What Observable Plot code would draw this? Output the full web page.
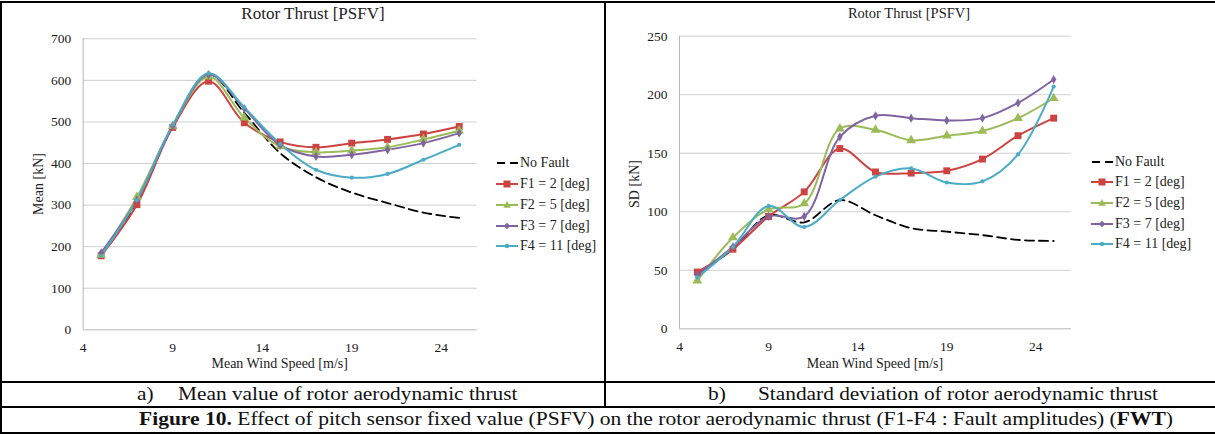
<!DOCTYPE html>
<html>
<head>
<meta charset="utf-8">
<script src="https://cdn.jsdelivr.net/npm/d3@7"></script>
<script src="https://cdn.jsdelivr.net/npm/@observablehq/plot@0.6"></script>
<style>
  html, body { margin: 0; padding: 0; background: #fff; }
  #page { position: relative; width: 1215px; height: 434px; background: #fff; overflow: hidden;
          font-family: "Liberation Serif", "Times New Roman", serif; color: #111; }
  .hline { position: absolute; left: 0; width: 1215px; height: 2px; background: #000; }
  .vline { position: absolute; width: 2px; background: #000; }
  .title { position: absolute; white-space: nowrap; transform: translateX(-50%); color: #222; }
  .lab { position: absolute; white-space: nowrap; font-size: 14px; color: #222; }
  .legend { position: absolute; font-size: 14px; color: #222; }
  .legend .item { position: absolute; left: 0; white-space: nowrap; height: 16px; line-height: 16px; }
  .legend svg { position: absolute; left: 0; top: 0; }
  .legend span { position: absolute; top: 0; }
  .cap { position: absolute; white-space: nowrap; font-size: 19px; color: #111; transform-origin: 0 50%; }
</style>
</head>
<body>
<div id="page"></div>
<script>
// ---------------- data ----------------
const windSpeed = [5, 7, 9, 11, 13, 15, 17, 19, 21, 23, 25];
const xTicks = [4, 9, 14, 19, 24];

const seriesNames = ["No Fault", "F1 = 2 [deg]", "F2 = 5 [deg]", "F3 = 7 [deg]", "F4 = 11 [deg]"];
const seriesColors = ["#000000", "#CC4340", "#9BBB59", "#8064A2", "#4BACC6"];
const seriesSymbols = [null, "square", "triangle", "diamond", "circle"];

// a) Mean [kN]
const meanNoFault = [180, 305, 490, 615, 522, 425, 367, 330, 305, 282, 269];
const meanF1 = [178, 301, 487, 598, 498, 452, 439, 449, 458, 471, 489];
const meanF2 = [180, 319, 490, 609, 510, 441, 427, 431, 439, 458, 479];
const meanF3 = [185, 312, 490, 614, 532, 444, 417, 421, 433, 449, 473];
const meanF4 = [178, 312, 493, 617, 535, 447, 385, 366, 375, 409, 445];
const meanTicks = [0, 100, 200, 300, 400, 500, 600, 700];

// b) SD [kN]
const sdNoFault = [47, 68, 97, 91, 110, 97, 86, 83, 80, 76, 75];
const sdF1 = [48.5, 68, 96, 117, 154, 134, 133, 135, 145, 165, 180];
const sdF2 = [41, 78, 102, 107, 171, 170, 161, 165, 169, 180, 197];
const sdF3 = [46, 70, 96, 96, 164, 182, 180, 178, 180, 193, 213];
const sdF4 = [44, 70, 105, 87, 110, 130, 137, 125, 126, 149, 207];
const sdTicks = [0, 50, 100, 150, 200, 250];

const meanSeries = [meanNoFault, meanF1, meanF2, meanF3, meanF4];
const sdSeries = [sdNoFault, sdF1, sdF2, sdF3, sdF4];

const symbolR = {square: 3.9, triangle: 3.6, diamond: 2.8, circle: 2.1};

// ---------------- helpers ----------------
const page = document.getElementById("page");
function add(html) { page.insertAdjacentHTML("beforeend", html); return page.lastElementChild; }

function panel(seriesValues, yDomain, yTicks, m) {
  const marks = [
    Plot.gridY(yTicks.filter(t => t > 0), {stroke: "#cfcfcf", strokeOpacity: 1, strokeWidth: 1}),
    Plot.ruleX([4], {stroke: "#b8b8b8", strokeWidth: 1}),
    Plot.ruleY([0], {stroke: "#b8b8b8", strokeWidth: 1})
  ];
  seriesValues.forEach((vals, k) => {
    const data = vals.map((v, i) => ({x: windSpeed[i], y: v}));
    marks.push(Plot.line(data, {
      x: "x", y: "y", stroke: seriesColors[k], strokeWidth: k === 0 ? 1.8 : 2,
      strokeDasharray: k === 0 ? "9,5" : null, curve: "catmull-rom"
    }));
  });
  seriesValues.forEach((vals, k) => {
    if (!seriesSymbols[k]) return;
    const data = vals.map((v, i) => ({x: windSpeed[i], y: v}));
    marks.push(Plot.dot(data, {
      x: "x", y: "y", symbol: seriesSymbols[k], r: symbolR[seriesSymbols[k]],
      fill: seriesColors[k], stroke: "none"
    }));
  });
  return Plot.plot({
    width: m.width, height: m.height,
    marginLeft: m.left, marginRight: m.right, marginTop: m.top, marginBottom: m.bottom,
    x: {domain: [4, 26], ticks: xTicks, tickSize: 0, tickPadding: 13, label: null},
    y: {domain: yDomain, ticks: yTicks, tickSize: 0, tickPadding: 12, label: null},
    style: {fontFamily: "'Liberation Serif', 'Times New Roman', serif", fontSize: "13.5px", color: "#1a1a1a", background: "transparent", overflow: "visible"},
    marks
  });
}

function legend(left, tops) {
  let html = `<div class="legend" style="left:${left}px;top:0px;">`;
  seriesNames.forEach((name, k) => {
    const c = seriesColors[k];
    let glyph;
    if (k === 0) {
      glyph = `<line x1="1" y1="8" x2="22" y2="8" stroke="#000" stroke-width="2" stroke-dasharray="8,5"/>`;
    } else {
      let mk = "";
      const cx = 11, cy = 8;
      if (seriesSymbols[k] === "square") mk = `<rect x="${cx-3.5}" y="${cy-3.5}" width="7" height="7" fill="${c}"/>`;
      else if (seriesSymbols[k] === "triangle") mk = `<path d="M${cx},${cy-4} L${cx+3.8},${cy+2.8} L${cx-3.8},${cy+2.8} Z" fill="${c}"/>`;
      else if (seriesSymbols[k] === "diamond") mk = `<path d="M${cx},${cy-3.2} L${cx+3.2},${cy} L${cx},${cy+3.2} L${cx-3.2},${cy} Z" fill="${c}"/>`;
      else mk = `<circle cx="${cx}" cy="${cy}" r="2.2" fill="${c}"/>`;
      glyph = `<line x1="0" y1="8" x2="22" y2="8" stroke="${c}" stroke-width="2"/>${mk}`;
    }
    html += `<div class="item" style="top:${tops[k] - 8}px;"><svg width="23" height="16">${glyph}</svg><span style="left:24px;">${name}</span></div>`;
  });
  html += `</div>`;
  add(html);
}

// ---------------- panel a ----------------
const svgA = panel(meanSeries, [0, 700], meanTicks, {width: 606, height: 383, left: 82.7, right: 129.4, top: 38.3, bottom: 53.7});
svgA.style.position = "absolute"; svgA.style.left = "0px"; svgA.style.top = "0px";
page.appendChild(svgA);

// ---------------- panel b ----------------
const svgB = panel(sdSeries, [0, 250], sdTicks, {width: 609, height: 383, left: 73, right: 144, top: 35.7, bottom: 54.7});
svgB.style.position = "absolute"; svgB.style.left = "606px"; svgB.style.top = "0px";
page.appendChild(svgB);

// titles
add(`<div class="title" style="left:313px;top:4px;font-size:17px;">Rotor Thrust [PSFV]</div>`);
add(`<div class="title" style="left:909px;top:5px;font-size:14.5px;">Rotor Thrust [PSFV]</div>`);
// axis labels
add(`<div class="lab" style="left:279.7px;top:356px;transform:translateX(-50%);">Mean Wind Speed [m/s]</div>`);
add(`<div class="lab" style="left:875px;top:356px;transform:translateX(-50%);">Mean Wind Speed [m/s]</div>`);
add(`<div class="lab" style="left:39px;top:184px;transform:translate(-50%,-50%) rotate(-90deg);">Mean [kN]</div>`);
add(`<div class="lab" style="left:635px;top:183.5px;transform:translate(-50%,-50%) rotate(-90deg);">SD [kN]</div>`);
// legends
legend(496, [163.3, 184, 204.5, 225.5, 246]);
legend(1091, [161.7, 182.3, 203.3, 224, 244.3]);

// borders
add(`<div class="hline" style="top:1px;"></div>`);
add(`<div class="hline" style="top:381px;"></div>`);
add(`<div class="hline" style="top:406px;"></div>`);
add(`<div class="hline" style="top:432px;"></div>`);
add(`<div class="vline" style="left:0px;top:1px;height:433px;"></div>`);
add(`<div class="vline" style="left:604px;top:1px;height:407px;"></div>`);

// captions (stretched horizontally to the widths seen in the reference)
function fit(el, target) {
  const w = el.getBoundingClientRect().width;
  el.style.transform = `scaleX(${target / w})`;
  return target / w;
}
const capA1 = add(`<div class="cap" style="left:137px;top:382.5px;">a)</div>`);
const capA2 = add(`<div class="cap" style="left:178px;top:382.5px;">Mean value of rotor aerodynamic thrust</div>`);
const capB1 = add(`<div class="cap" style="left:708px;top:382.5px;">b)</div>`);
const capB2 = add(`<div class="cap" style="left:758px;top:382.5px;">Standard deviation of rotor aerodynamic thrust</div>`);
const capF = add(`<div class="cap" style="left:139px;top:407.5px;"><b>Figure 10.</b> Effect of pitch sensor fixed value (PSFV) on the rotor aerodynamic thrust (F1-F4 : Fault amplitudes) (<b>FWT</b>)</div>`);
const s = fit(capB2, 400);
capA2.style.transform = `scaleX(${s})`;
capA1.style.transform = `scaleX(${s})`;
capB1.style.transform = `scaleX(${s})`;
fit(capF, 1034);
</script>
</body>
</html>
